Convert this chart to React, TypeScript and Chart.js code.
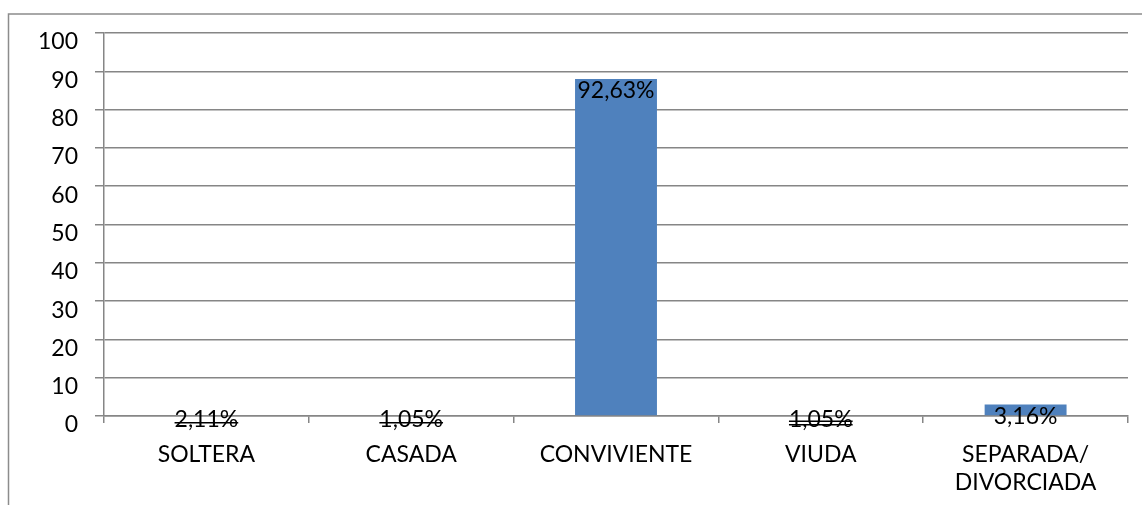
import React, { useEffect, useRef } from "react";
import { Chart, registerables } from "chart.js";

Chart.register(...registerables);

const categories: (string | string[])[] = ["SOLTERA", "CASADA", "CONVIVIENTE", "VIUDA", ["SEPARADA/", "DIVORCIADA"]];
const counts = [0, 0, 88, 0, 3];
const percentLabels = ["2,11%", "1,05%", "92,63%", "1,05%", "3,16%"];
const strikeCounts = [1, 1, 0, 2, 0];
const yMin = 0;
const yMax = 100;
const yStep = 10;

const FONT = "Lato, 'Open Sans', sans-serif";
const FONT_SIZE = 23;
const CAP = 16.5;

const frame = {
  id: "frame",
  beforeDraw(chart: any) {
    const ctx = chart.ctx;
    ctx.save();
    ctx.fillStyle = "#ffffff";
    ctx.fillRect(0, 0, chart.width, chart.height);
    ctx.strokeStyle = "#8c8c8c";
    ctx.lineWidth = 1.5;
    ctx.strokeRect(8.5, 14, chart.width + 100, chart.height + 100);
    ctx.restore();
  },
};

const valueLabels = {
  id: "valueLabels",
  afterDatasetsDraw(chart: any) {
    const ctx = chart.ctx;
    const meta = chart.getDatasetMeta(0);
    const base = chart.scales.y.getPixelForValue(0);
    ctx.save();
    ctx.fillStyle = "#000000";
    ctx.strokeStyle = "#000000";
    ctx.lineWidth = 1.5;
    ctx.font = `${FONT_SIZE}px ${FONT}`;
    ctx.textAlign = "center";
    ctx.textBaseline = "alphabetic";
    meta.data.forEach((bar: any, i: number) => {
      const center = Math.min(bar.y + 11, base + 2.5);
      const baseline = center + CAP / 2;
      const text = percentLabels[i];
      ctx.fillText(text, bar.x, baseline);
      const w = ctx.measureText(text).width;
      const n = strikeCounts[i];
      const ys = n === 1 ? [baseline - 4] : n === 2 ? [baseline - 5.5, baseline - 2] : [];
      ys.forEach((sy) => {
        ctx.beginPath();
        ctx.moveTo(bar.x - w / 2, sy);
        ctx.lineTo(bar.x + w / 2, sy);
        ctx.stroke();
      });
    });
    ctx.restore();
  },
};

export default function App() {
  const ref = useRef<HTMLCanvasElement | null>(null);

  useEffect(() => {
    if (!ref.current) return;
    const chart = new Chart(ref.current, {
      type: "bar",
      data: {
        labels: categories as any,
        datasets: [
          {
            data: counts,
            backgroundColor: "#4F81BD",
            borderWidth: 0,
            barPercentage: 0.4,
            categoryPercentage: 1,
          },
        ],
      },
      options: {
        animation: false,
        responsive: true,
        maintainAspectRatio: false,
        devicePixelRatio: 1,
        layout: { padding: { left: 0, right: 14, top: 33, bottom: 0 } },
        plugins: {
          legend: { display: false },
          tooltip: { enabled: false },
        },
        scales: {
          x: {
            offset: true,
            grid: {
              display: true,
              drawOnChartArea: false,
              drawTicks: true,
              tickLength: 7,
              color: "#868686",
              lineWidth: 1.5,
              offset: true,
            },
            border: { display: true, color: "#868686", width: 1.5 },
            ticks: {
              color: "#000000",
              font: { family: FONT, size: FONT_SIZE },
              padding: 18,
              maxRotation: 0,
              autoSkip: false,
            },
            afterFit(scale: any) {
              scale.height = 89;
            },
          },
          y: {
            min: yMin,
            max: yMax,
            grid: {
              color: "#868686",
              lineWidth: 1.5,
              tickLength: 9,
            },
            border: { display: true, color: "#868686", width: 1.5 },
            ticks: {
              stepSize: yStep,
              color: "#000000",
              font: { family: FONT, size: FONT_SIZE },
              padding: 17,
              labelOffset: 9,
            },
            afterFit(scale: any) {
              scale.width = 104;
            },
          },
        },
      },
      plugins: [frame, valueLabels],
    });
    return () => chart.destroy();
  }, []);

  return (
    <div style={{ position: "fixed", left: 0, top: 0, width: 1142, height: 505, background: "#fff" }}>
      <canvas ref={ref} />
    </div>
  );
}
